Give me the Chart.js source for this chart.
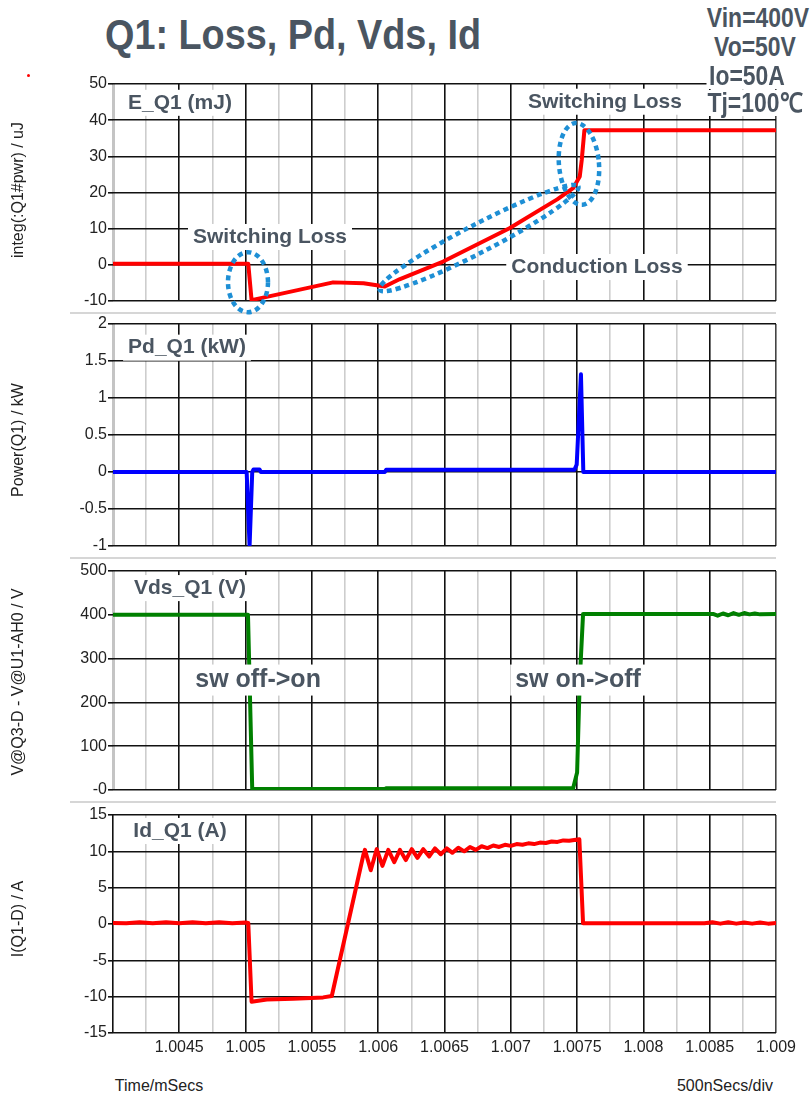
<!DOCTYPE html>
<html>
<head>
<meta charset="utf-8">
<title>Q1: Loss, Pd, Vds, Id</title>
<script src="https://cdn.jsdelivr.net/npm/chart.js@4.4.1/dist/chart.umd.min.js"></script>
<style>
  html, body { margin: 0; padding: 0; background: #fff; }
  #page { position: relative; width: 812px; height: 1099px; overflow: hidden; background: #fff;
          font-family: "Liberation Sans", Arial, sans-serif; }
  canvas { position: absolute; left: 0; z-index: 2; }
  .sep { position: absolute; left: 70px; width: 706px; height: 2px; background: #d6d6d6; z-index: 1; }
  .txt { position: absolute; white-space: nowrap; z-index: 3; transform: translate(-50%, -50%); }
  .head { font-weight: bold; color: #4a5561; transform: translate(-50%, -50%) scaleX(0.9); }
  .spec { font-weight: bold; color: #4a5561; font-size: 27px; background: #fff; padding: 0 3px; line-height: 26px;
          transform: translate(-50%, -50%) scaleX(0.85); }
  .ytitle { font-size: 16px; color: #222; transform: translate(-50%, -50%) rotate(-90deg); }
  .foot { font-size: 16px; color: #222; }
  #dot { position: absolute; left: 27px; top: 74px; width: 3px; height: 3px; border-radius: 50%; background: #f00; z-index: 3; }
</style>
</head>
<body>
<div id="page">
  <div class="sep" style="top:312px"></div>
  <div class="sep" style="top:557px"></div>
  <div class="sep" style="top:801px"></div>

  <canvas id="cE"  width="812" height="245" style="top:70px"></canvas>
  <canvas id="cP"  width="812" height="250" style="top:310px"></canvas>
  <canvas id="cV"  width="812" height="247" style="top:557px"></canvas>
  <canvas id="cI"  width="812" height="262" style="top:801px"></canvas>

  <div class="txt head" style="left:293px; top:35px; font-size:42px;">Q1: Loss, Pd, Vds, Id</div>
  <div class="txt spec" style="left:758px; top:18px;">Vin=400V</div>
  <div class="txt spec" style="left:755px; top:47px;">Vo=50V</div>
  <div class="txt spec" style="left:747px; top:76px;">Io=50A</div>
  <div class="txt spec" style="left:755px; top:103px;">Tj=100℃</div>
  <div id="dot"></div>

  <div class="txt ytitle" style="left:18px; top:190px;">integ(:Q1#pwr) / uJ</div>
  <div class="txt ytitle" style="left:18px; top:440px;">Power(Q1) / kW</div>
  <div class="txt ytitle" style="left:18px; top:682px;">V@Q3-D - V@U1-AH0 / V</div>
  <div class="txt ytitle" style="left:18px; top:919px;">I(Q1-D) / A</div>

  <div class="txt foot" style="left:159px; top:1086px;">Time/mSecs</div>
  <div class="txt foot" style="left:725px; top:1086px;">500nSecs/div</div>
</div>

<script>
// ---- time axis (mSecs) ----
const T_MIN = 1.004;
const T_MAX = 1.009;
const T_MINOR_STEP = 0.00025;
const xTickLabels = ['1.0045', '1.005', '1.0055', '1.006', '1.0065', '1.007', '1.0075', '1.008', '1.0085', '1.009'];

// ---- E_Q1 : integrated switch power (mJ) ----
const tE  = [1.004, 1.00502, 1.005045, 1.00528, 1.00566, 1.00589, 1.00605, 1.00616, 1.00649, 1.00699, 1.00735, 1.00747, 1.00752, 1.007535, 1.007555, 1.009];
const eQ1 = [0.3,   0.3,     -9.75,    -7.9,    -4.85,   -5.1,    -6.0,    -4.0,    0.9,     10.1,    18.1,    21.2,    24.4,    29,       37.2,     37.2];
const eTicks  = [-10, 0, 10, 20, 30, 40, 50];
const eLabels = ['-10', '0', '10', '20', '30', '40', '50'];

// ---- Pd_Q1 : switch power (kW) ----
const tP  = [1.004, 1.005008, 1.00503, 1.00505, 1.00506, 1.005105, 1.005115, 1.00605, 1.00606, 1.00748, 1.007497, 1.007529, 1.007547, 1.009];
const pd  = [0,     0,        -1.0,    0,       0.035,   0.035,    0,        0,       0.03,    0.03,    0.1,      1.32,     0,        0];
const pTicks  = [-1, -0.5, 0, 0.5, 1, 1.5, 2];
const pLabels = ['-1', '-0.5', '0', '0.5', '1', '1.5', '2'];

// ---- Vds_Q1 (V) ----
const tV  = [1.004, 1.005018, 1.00505, 1.00605, 1.00606, 1.00747, 1.0075, 1.00752, 1.007545, 1.008525,
             1.00856, 1.0086, 1.00864, 1.00868, 1.00872, 1.00876, 1.0088, 1.00884, 1.00888, 1.009];
const vds = [400,   400,      2,       2,       4,       4,       40,     250,     402,      402,
             398,     403,    399,     404,     400,     404,     401,    403,     401,     402];
const vTicks  = [0, 100, 200, 300, 400, 500];
const vLabels = ['-0', '100', '200', '300', '400', '500'];

// ---- Id_Q1 (A) ----
const tI = [1.004, 1.0041, 1.0042, 1.0043, 1.0044, 1.0045, 1.0046, 1.0047, 1.0048, 1.0049, 1.005, 1.00502,
            1.005045, 1.00516, 1.00536, 1.005585, 1.00565, 1.005888, 1.0059,
            1.005944, 1.005989, 1.006032, 1.006076, 1.006121, 1.006164, 1.006208, 1.006253, 1.006296, 1.00634,
            1.006385, 1.006428, 1.006472, 1.006517, 1.00656, 1.006604, 1.006649, 1.006692, 1.006736, 1.00678,
            1.006824, 1.006868, 1.006912, 1.006956, 1.007, 1.007044, 1.007088, 1.007132, 1.007176, 1.00722,
            1.007264, 1.007308, 1.007352, 1.007396, 1.00744, 1.007517, 1.007545,
            1.00846, 1.00852, 1.00858, 1.00864, 1.0087, 1.00876, 1.00882, 1.00888, 1.00894, 1.009];
const id = [0.15, 0.1, 0.25, 0.1, 0.25, 0.1, 0.25, 0.1, 0.25, 0.1, 0.2, 0.15,
            -10.7, -10.4, -10.3, -10.1, -9.9, 9.5, 10.2,
            7.4, 10.3, 8.0, 10.2, 8.5, 10.2, 8.8, 10.3, 9.1, 10.3,
            9.3, 10.4, 9.6, 10.4, 9.8, 10.5, 10.0, 10.6, 10.2, 10.7,
            10.45, 10.8, 10.6, 10.9, 10.75, 11.0, 10.9, 11.1, 11.0, 11.2,
            11.15, 11.35, 11.3, 11.5, 11.45, 11.65, 0.1,
            0.1, 0.25, 0.05, 0.25, 0.05, 0.2, 0.05, 0.2, 0.05, 0.15];
const iTicks  = [-15, -10, -5, 0, 5, 10, 15];
const iLabels = ['-15', '-10', '-5', '0', '5', '10', '15'];

// ---- styling ----
const FONT = '"Liberation Sans", Arial, sans-serif';
const NOTE_COLOR = '#4a5561';
const RING_COLOR = '#1e8fd5';
const PAD = 14;

const xGridValues = [];
for (let v = T_MIN; v <= T_MAX + 1e-9; v += T_MINOR_STEP) xGridValues.push(+v.toFixed(5));

// dotted rings and boxed captions, placed in data coordinates
function notesPlugin(rings, labels) {
  return {
    id: 'notes',
    afterDatasetsDraw(chart) {
      const ctx = chart.ctx, xs = chart.scales.x, ys = chart.scales.y;
      rings.forEach(r => {
        ctx.save();
        ctx.strokeStyle = RING_COLOR;
        ctx.lineWidth = 4.5;
        ctx.setLineDash([5, 4]);
        ctx.beginPath();
        ctx.ellipse(xs.getPixelForValue(r.t), ys.getPixelForValue(r.v), r.rx, r.ry, r.rot * Math.PI / 180, 0, Math.PI * 2);
        ctx.stroke();
        ctx.restore();
      });
      labels.forEach(l => {
        const size = l.size || 21;
        ctx.save();
        ctx.font = 'bold ' + size + 'px ' + FONT;
        const w = ctx.measureText(l.text).width;
        const cx = xs.getPixelForValue(l.t), cy = ys.getPixelForValue(l.v);
        ctx.fillStyle = '#fff';
        ctx.fillRect(cx - w / 2 - 5, cy - size * 0.62, w + 10, size * 1.24);
        ctx.fillStyle = NOTE_COLOR;
        ctx.textAlign = 'center';
        ctx.textBaseline = 'middle';
        ctx.fillText(l.text, cx, cy);
        ctx.restore();
      });
    }
  };
}

function xGridColor(i, last) {
  if (i === 0) return last ? '#111' : '#c4c4c4';
  if (i === xGridValues.length - 1) return '#444';
  return i % 2 === 0 ? '#111' : '#cdcdcd';
}

function makePanel(canvasId, tArr, vArr, color, yMin, yMax, yTicks, yLabels, rings, labels, last) {
  return new Chart(document.getElementById(canvasId), {
    type: 'line',
    data: {
      datasets: [{
        data: tArr.map((t, i) => ({ x: t, y: vArr[i] })),
        borderColor: color,
        borderWidth: 4,
        pointRadius: 0,
        tension: 0,
        fill: false,
        borderJoinStyle: 'round',
        borderCapStyle: 'round'
      }]
    },
    options: {
      responsive: false,
      animation: false,
      events: [],
      layout: { padding: { top: PAD, bottom: last ? 0 : PAD, left: 0, right: 36 } },
      plugins: { legend: { display: false }, tooltip: { enabled: false } },
      scales: {
        x: {
          type: 'linear',
          min: T_MIN,
          max: T_MAX,
          afterBuildTicks: s => { s.ticks = xGridValues.map(v => ({ value: v })); },
          afterFit: s => { s.height = last ? 30 : 0; },
          grid: {
            color: c => xGridColor(c.index, last),
            lineWidth: c => (c.index === 0 && !last) ? 3 : 1.6,
            drawTicks: false
          },
          border: { display: false },
          ticks: {
            display: last,
            autoSkip: false,
            maxRotation: 0,
            padding: 5,
            color: '#222',
            font: { family: FONT, size: 16 },
            callback: (v, i) => (i > 0 && i % 2 === 0) ? xTickLabels[i / 2 - 1] : ''
          }
        },
        y: {
          min: yMin,
          max: yMax,
          afterBuildTicks: s => { s.ticks = yTicks.map(v => ({ value: v })); },
          afterFit: s => { s.width = 113; },
          grid: { color: '#111', lineWidth: 1.6, drawTicks: true, tickLength: 5, tickColor: '#111' },
          border: { display: false },
          ticks: {
            padding: 1,
            color: '#222',
            font: { family: FONT, size: 16 },
            callback: (v, i) => yLabels[i]
          }
        }
      }
    },
    plugins: [notesPlugin(rings, labels)]
  });
}

makePanel('cE', tE, eQ1, '#ff0000', -10, 50, eTicks, eLabels,
  [
    { t: 1.005018, v: -4.8, rx: 20, ry: 30, rot: 0 },
    { t: 1.00676, v: 7.4, rx: 112, ry: 14, rot: -27.5 },
    { t: 1.007514, v: 27.9, rx: 20, ry: 41, rot: -5 }
  ],
  [
    { text: 'E_Q1 (mJ)', t: 1.004505, v: 44.8 },
    { text: 'Switching Loss', t: 1.00771, v: 45.1 },
    { text: 'Switching Loss', t: 1.005184, v: 7.7 },
    { text: 'Conduction Loss', t: 1.00765, v: -0.6 }
  ], false);

makePanel('cP', tP, pd, '#0000ff', -1, 2, pTicks, pLabels, [],
  [ { text: 'Pd_Q1 (kW)', t: 1.004558, v: 1.68 } ], false);

makePanel('cV', tV, vds, '#008000', 0, 500, vTicks, vLabels, [],
  [
    { text: 'Vds_Q1 (V)', t: 1.004581, v: 461 },
    { text: 'sw off->on', t: 1.005094, v: 251, size: 25 },
    { text: 'sw on->off', t: 1.007507, v: 251, size: 25 }
  ], false);

makePanel('cI', tI, id, '#ff0000', -15, 15, iTicks, iLabels, [],
  [ { text: 'Id_Q1 (A)', t: 1.004505, v: 12.8 } ], true);
</script>
</body>
</html>
